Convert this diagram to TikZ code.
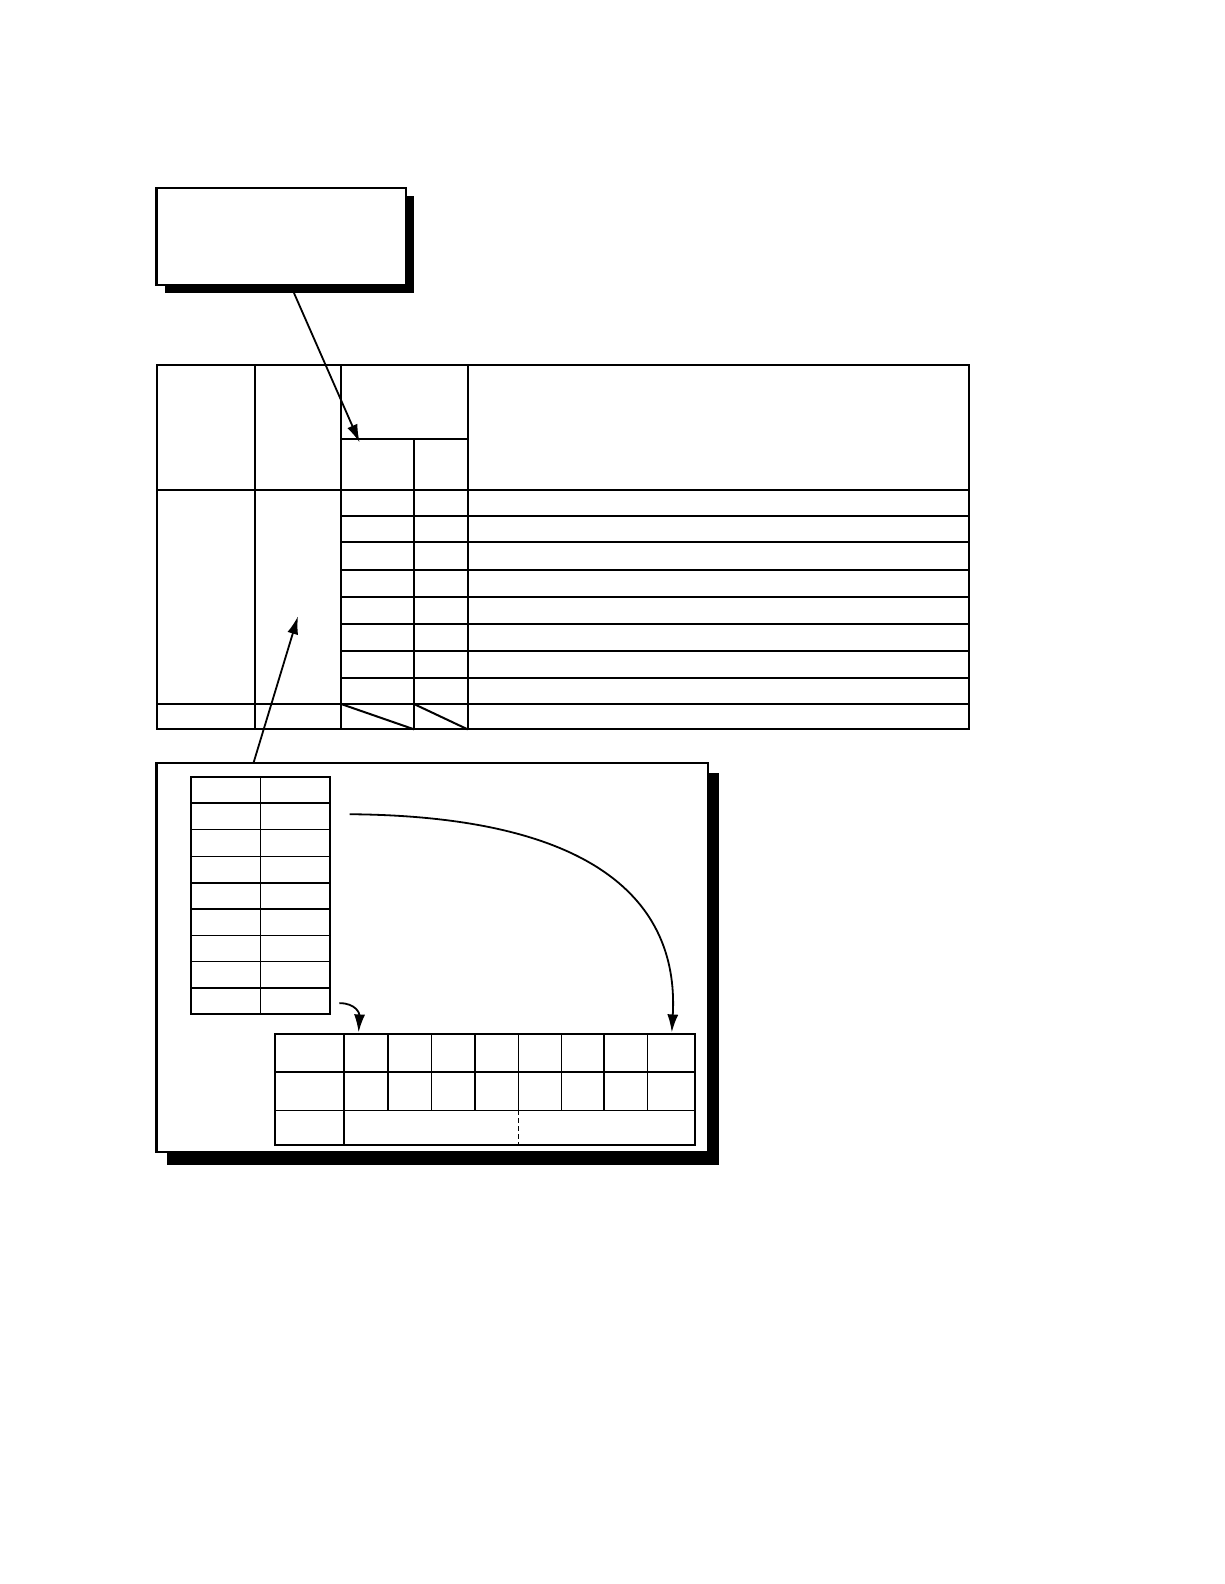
\documentclass[tikz,border=0pt]{standalone}
\usetikzlibrary{arrows.meta}
\tikzset{
  frame/.style={draw, line width=1.1pt, fill=white},
  rule/.style={line width=1pt},
  thinrule/.style={line width=0.7pt},
  pointer/.style={line width=0.9pt, -{Latex[length=9pt,width=5.5pt]}},
}
\begin{document}
\begin{tikzpicture}[x=0.505pt,y=-0.505pt]
  \useasboundingbox (0,0) rectangle (1212,1568);
  % top box with shadow
  \fill (163,194) rectangle (410,290);
  \draw[frame] (155,186) rectangle (402,282);
  \coordinate (topout) at (291,290);
  \coordinate (headin) at (356,438);
  \draw[pointer] (topout)--(headin);

  % main table
  \draw[rule] (155,361) rectangle (959,722);
  \foreach \x in {252, 338, 463}
    \draw[rule] (\x,361)--(\x,722);
  \draw[rule] (410,435)--(410,722);
  \draw[rule] (338,435)--(463,435);
  \draw[rule] (155,485)--(959,485);
  \draw[rule] (155,697)--(959,697);
  \foreach \y in {511, 537, 564, 591, 618, 644, 671}
    \draw[rule] (338,\y)--(959,\y);
  \draw[rule] (338,697)--(410,722);
  \draw[rule] (410,697)--(463,722);
  \coordinate (colin) at (295,610);

  % bottom box with shadow
  \fill (165,765) rectangle (712,1153);
  \draw[frame] (155,755) rectangle (701,1140);
  \coordinate (boxout) at (251,755);
  \draw[pointer] (boxout)--(colin);

  % small table
  \draw[rule] (189,769) rectangle (327,1004);
  \draw[thinrule] (258,769)--(258,1004);
  \draw[rule] (189,795)--(327,795);
  \foreach \y in {821, 848, 874, 900, 926, 952, 978}
    \draw[thinrule] (189,\y)--(327,\y);

  % wide table
  \draw[rule] (272,1024) rectangle (688,1133);
  \draw[rule] (341,1024)--(341,1133);
  \draw[thinrule] (272,1061)--(688,1061);
  \draw[thinrule] (272,1099)--(688,1099);
  \foreach \x in {384, 427, 470, 513, 556, 598, 641}
    \draw[thinrule] (\x,1024)--(\x,1099);
  \draw[thinrule, dash pattern=on 2.5pt off 1.5pt] (513,1099)--(513,1133);

  % curved pointers
  \coordinate (bigout) at (346,806);
  \coordinate (bigin) at (665,1022);
  \draw[pointer] (bigout) .. controls (600,808) and (672,900) .. (bigin);
  \coordinate (smallout) at (336,993);
  \coordinate (smallin) at (355,1022);
  \draw[pointer] (smallout) .. controls (352,993) and (356,1003) .. (smallin);
\end{tikzpicture}
\end{document}
